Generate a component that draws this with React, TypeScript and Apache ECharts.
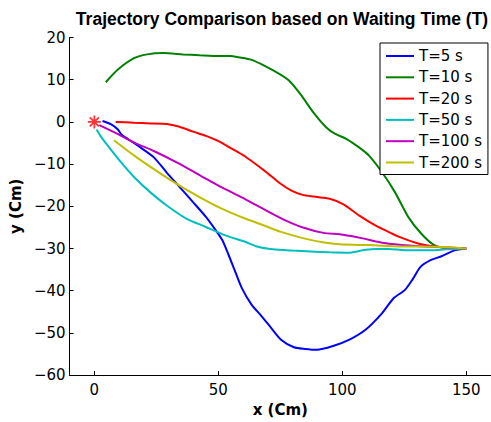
import React, { useEffect, useRef } from "react";
import * as echarts from "echarts";

const seriesNames = ["T=5 s", "T=10 s", "T=20 s", "T=50 s", "T=100 s", "T=200 s"];
const seriesColors = ["#0000FF", "#008000", "#FF0000", "#00BFBF", "#BF00BF", "#BFBF00"];

const t5: number[][] = [
  [3.3, 0.2], [6.8, -0.6], [9.5, -1.8], [10.8, -2.9], [13.4, -4], [18.7, -6.1], [24, -8.4],
  [29.2, -12], [34.5, -15.5], [39.8, -19], [45, -22.5], [49, -25.7], [51.6, -28], [54.2, -31.6],
  [56.5, -35], [59.5, -39.4], [63.4, -43.3], [67.4, -46], [71.3, -48.8], [75.3, -51.6],
  [80.5, -53.4], [85, -53.8], [89.7, -54], [96.3, -53.1], [102.9, -51.6], [109.5, -49.2],
  [116.1, -45.3], [120.7, -41.8], [125.3, -39.8], [128.5, -37.2], [131.5, -34.4], [135.8, -32.7],
  [139.8, -31.9], [145, -30.5], [150, -30],
];
const t10: number[][] = [
  [4.6, 9.4], [9.5, 12.4], [16, 15.1], [21.3, 16.0], [27.9, 16.3], [35.8, 16.0], [42.4, 15.8],
  [50.3, 15.6], [55, 15.6], [58.2, 15.3], [63.4, 14.7], [68.7, 13.3], [74.6, 11.4], [78.5, 9.8],
  [83.2, 6.5], [88.4, 2.2], [93.7, -1.4], [97, -2.8], [101.6, -4], [106.9, -6.1], [110.8, -8],
  [116.1, -12], [121.3, -16.7], [126.6, -22.5], [131.9, -26.5], [137.1, -29.2], [142, -29.9],
  [150, -30],
];
const t20: number[][] = [
  [8.6, 0], [16, -0.2], [22.6, -0.35], [29.2, -0.5], [34, -1.1], [39.8, -2.3], [45, -3.3],
  [50.3, -4.6], [55, -6.2], [60.8, -8.2], [68.7, -11.6], [75, -14.6], [79.5, -16.3], [84, -17.3],
  [88.4, -17.7], [95, -18.2], [100.3, -19.5], [106.9, -22.2], [112.1, -24.1],
  [117, -25.6], [122.7, -27.2], [130.6, -28.8], [137.1, -29.5], [143, -29.8], [150, -30],
];
const t50: number[][] = [
  [0.9, -1.8], [3, -3.8], [5.5, -5.7], [10.8, -9.6], [16.1, -13.1], [22.6, -16.7], [29.2, -19.8],
  [37.1, -22.9], [45, -24.9], [52.9, -26.9], [60.8, -28.4], [66, -29.6], [72, -30.2], [80, -30.5],
  [87.2, -30.7], [95, -30.9], [102.9, -31], [106, -30.7], [109.5, -30.3], [114, -30.1],
  [118.7, -30.1], [125.3, -30.4], [135.8, -30.4], [142, -30.2], [150, -30],
];
const t100: number[][] = [
  [2, -0.75], [8.2, -2.5], [16.1, -4.9], [24, -6.9], [33.2, -9.6], [42.4, -12.6], [51.6, -15.6],
  [60.8, -18.3], [68.7, -20.8], [76.6, -23.2], [84.5, -25.1], [92.4, -26.3], [99, -26.6],
  [103, -27], [108.2, -27.6], [117, -28.7], [127, -29.3], [137.1, -29.6], [150, -30],
];
const t200: number[][] = [
  [7.9, -4.35], [16.1, -8], [24, -11.2], [33.2, -14.7], [42.4, -17.8], [51.6, -20.6],
  [60.8, -22.9], [68.7, -24.6], [75, -26], [84.5, -27.6], [92, -28.5], [99, -29], [110.8, -29.2],
  [124, -29.5], [138.4, -29.6], [150, -30],
];
const startPoint: number[][] = [[0, 0]];

const xTicks = [0, 50, 100, 150];
const xRange = [-10, 160];
const yRange = [-60, 20];
const yStep = 10;

const titleText = "Trajectory Comparison based on Waiting Time (T)";
const xName = "x (Cm)";
const yName = "y (Cm)";

const FONT = "DejaVu Sans";
const TITLE_FONT = "Liberation Sans";

export default function App() {
  const ref = useRef<HTMLDivElement>(null);
  useEffect(() => {
    if (!ref.current) return;
    const chart = echarts.init(ref.current, undefined, { renderer: "svg" });
    const allData = [t5, t10, t20, t50, t100, t200];
    const lineSeries = allData.map((d, i) => ({
      name: seriesNames[i],
      type: "line",
      data: d,
      symbol: "none",
      showSymbol: false,
      smooth: 0.25,
      lineStyle: { color: seriesColors[i], width: 2 },
      itemStyle: { color: seriesColors[i] },
      z: 2,
    }));
    const fmt = (v: number) => (v < 0 ? "\u2212" + Math.abs(v) : String(v));
    chart.setOption({
      animation: false,
      backgroundColor: "#fff",
      title: {
        text: titleText,
        left: 277,
        top: 5,
        textAlign: "center",
        textStyle: { fontFamily: TITLE_FONT, fontWeight: "bold", fontSize: 17.5, color: "#000" },
      },
      grid: { left: 61, right: 0, top: 37.5, bottom: 44.5, containLabel: false },
      legend: {
        orient: "vertical",
        left: 380,
        top: 43,
        data: seriesNames,
        icon: "rect",
        backgroundColor: "#fff",
        borderColor: "#000",
        borderWidth: 1,
        borderRadius: 0,
        padding: [4, 6, 3, 6],
        itemWidth: 28,
        itemHeight: 2,
        itemGap: 3.3,
        textStyle: { fontFamily: FONT, fontSize: 15, color: "#000", lineHeight: 18 },
      },
      xAxis: {
        type: "value",
        min: xRange[0],
        max: xRange[1],
        name: xName,
        nameLocation: "middle",
        nameGap: 24,
        nameTextStyle: { fontFamily: FONT, fontWeight: "bold", fontSize: 15, color: "#000" },
        axisLine: { show: true, onZero: false, lineStyle: { color: "#000", width: 1 } },
        axisTick: { show: true, inside: true, length: 4, customValues: xTicks, lineStyle: { color: "#000" } },
        axisLabel: {
          customValues: xTicks,
          fontFamily: FONT,
          fontSize: 15,
          color: "#000",
          margin: 7,
          formatter: fmt,
        },
        splitLine: { show: false },
      },
      yAxis: {
        type: "value",
        min: yRange[0],
        max: yRange[1],
        interval: yStep,
        name: yName,
        nameLocation: "middle",
        nameGap: 38,
        nameRotate: 90,
        nameTextStyle: { fontFamily: FONT, fontWeight: "bold", fontSize: 15, color: "#000" },
        axisLine: { show: true, onZero: false, lineStyle: { color: "#000", width: 1 } },
        axisTick: { show: true, inside: true, length: 4, lineStyle: { color: "#000" } },
        axisLabel: { fontFamily: FONT, fontSize: 15, color: "#000", margin: 4, formatter: fmt },
        splitLine: { show: false },
      },
      series: [
        ...lineSeries,
        {
          name: "start",
          type: "scatter",
          data: startPoint,
          symbol: "path://M0,-10L0,10M-10,0L10,0M-7,-7L7,7M-7,7L7,-7",
          symbolSize: 13,
          itemStyle: { color: "none", borderColor: "#FF0000", borderWidth: 1.8 },
          z: 5,
        },
      ],
    });
    return () => chart.dispose();
  }, []);
  return (
    <div
      ref={ref}
      style={{ position: "absolute", left: 0, top: 0, width: 491, height: 422 }}
    />
  );
}
